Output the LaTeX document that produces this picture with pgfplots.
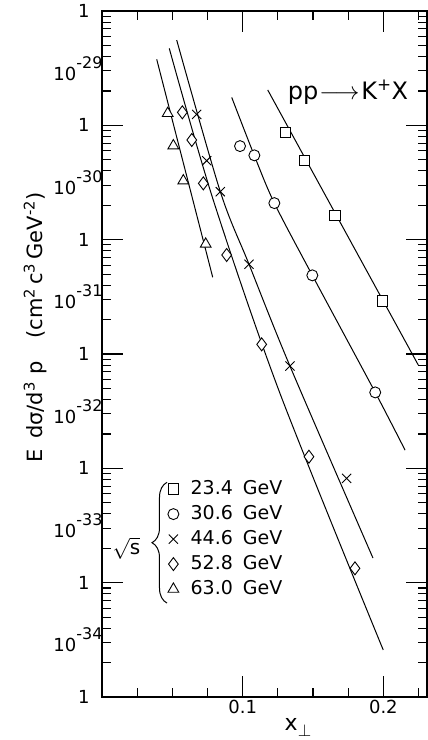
\documentclass[border=0pt]{standalone}
\usepackage{fontspec}
\setmainfont{DejaVu Sans}
\usepackage{pgfplots}
\pgfplotsset{compat=1.18}
\usetikzlibrary{decorations.pathreplacing}
\newcommand{\ex}[1]{10\raisebox{12pt}{\fontsize{16}{16}\selectfont#1}}
\begin{document}
\begin{tikzpicture}
\path[use as bounding box] (-102pt,-43pt) rectangle (326pt,697pt);
\begin{axis}[
  at={(0pt,0pt)}, anchor=south west,
  scale only axis, width=325pt, height=686pt,
  xmin=0, xmax=0.231, ymin=1e-34, ymax=1e-28, ymode=log,
  axis line style={line width=1.4pt},
  tick align=inside,
  major tick length=21pt, minor tick length=9pt,
  tick style={line width=1.1pt, black},
  xtick={0.1,0.2}, xticklabels={0.1,0.2},
  minor xtick={0.025,0.05,0.075,0.125,0.15,0.175,0.225},
  ytick={1e-34,1e-33,1e-32,1e-31,1e-30,1e-29,1e-28},
  yticklabels={1,1,1,1,1,1,1},
  minor ytick={2e-34,3e-34,4e-34,5e-34,6e-34,7e-34,8e-34,9e-34,
               2e-33,3e-33,4e-33,5e-33,6e-33,7e-33,8e-33,9e-33,
               2e-32,3e-32,4e-32,5e-32,6e-32,7e-32,8e-32,9e-32,
               2e-31,3e-31,4e-31,5e-31,6e-31,7e-31,8e-31,9e-31,
               2e-30,3e-30,4e-30,5e-30,6e-30,7e-30,8e-30,9e-30,
               2e-29,3e-29,4e-29,5e-29,6e-29,7e-29,8e-29,9e-29},
  extra y ticks={3.1623e-34,3.1623e-33,3.1623e-32,3.1623e-31,3.1623e-30,3.1623e-29},
  extra y tick labels={\ex{-34},\ex{-33},\ex{-32},\ex{-31},\ex{-30},\ex{-29}},
  extra y tick style={tick style={draw=none}, yticklabel style={xshift=13pt}},
  yticklabel style={xshift=-9pt},
  ticklabel style={font=\fontsize{18}{20}\selectfont},
  xlabel={x\raisebox{-6pt}{\fontsize{16}{16}\selectfont$\perp$}},
  xlabel style={at={(rel axis cs:0.603,-0.044)}, anchor=center, font=\fontsize{22}{24}\selectfont},
  ylabel={E\hspace{10pt}dσ/d\textsuperscript{3}\hspace{8pt}p\hspace{22pt}(cm\textsuperscript{2}\hspace{4pt}c\textsuperscript{3}\hspace{4pt}GeV\textsuperscript{-2})},
  ylabel style={at={(rel axis cs:-0.206,0.539)}, anchor=center, font=\fontsize{21}{24}\selectfont},
  legend style={at={(rel axis cs:0.2,0.318)}, anchor=north west, draw=none, fill=none,
    font=\fontsize{19}{22}\selectfont, row sep=5pt, inner sep=0pt,
    cells={anchor=west}, nodes={inner sep=1pt, text height=14pt, text depth=4pt}},
  legend image code/.code={\path (0pt,0pt) (22pt,0pt); \draw[#1] plot coordinates {(6pt,0pt)};},
]
% fitted curves
\addplot[black, line width=1pt, forget plot] coordinates {(0.1178,2.04e-29) (0.2248,8.02e-32)};
\addplot[black, line width=1pt, smooth, forget plot] coordinates {(0.0922,1.758e-29) (0.1082,5.47e-30) (0.1225,2.09e-30) (0.1495,4.88e-31) (0.1942,4.62e-32) (0.2154,1.445e-32)};
\addplot[black, line width=1pt, smooth, forget plot] coordinates {(0.0531,5.57e-29) (0.0841,2.63e-30) (0.1045,6.10e-31) (0.1336,7.85e-32) (0.1926,1.644e-33)};
\addplot[black, line width=1pt, smooth, forget plot] coordinates {(0.0478,4.72e-29) (0.0791,2.22e-30) (0.1265,4.53e-32) (0.1999,2.58e-34)};
\addplot[black, line width=1pt, forget plot] coordinates {(0.0389,3.78e-29) (0.0787,4.69e-31)};
% data
\addplot[black, only marks, mark=square*, mark size=5.2pt, mark options={fill=white, line width=0.9pt}] coordinates {(0.1306,8.69e-30) (0.1441,4.91e-30) (0.1656,1.633e-30) (0.1992,2.91e-31)};
\addplot[black, only marks, mark=*, mark size=5.5pt, mark options={fill=white, line width=0.9pt}] coordinates {(0.0981,6.59e-30) (0.1083,5.47e-30) (0.1225,2.09e-30) (0.1495,4.88e-31) (0.1942,4.62e-32)};
\addplot[black, only marks, mark=x, mark size=6.5pt, mark options={line width=0.9pt}] coordinates {(0.0673,1.247e-29) (0.0744,4.91e-30) (0.0841,2.63e-30) (0.1045,6.10e-31) (0.1336,7.85e-32) (0.1739,8.18e-33)};
\addplot[black, only marks, mark=diamond*, mark size=6.5pt, mark options={fill=white, line width=0.9pt}] coordinates {(0.0571,1.30e-29) (0.0638,7.45e-30) (0.0720,3.11e-30) (0.0886,7.35e-31) (0.1135,1.216e-31) (0.1471,1.265e-32) (0.1798,1.337e-33)};
\addplot[black, only marks, mark=triangle*, mark size=6.2pt, mark options={fill=white, line width=0.9pt}] coordinates {(0.0467,1.274e-29) (0.0507,6.64e-30) (0.0578,3.28e-30) (0.0737,9.16e-31)};
\legend{23.4\hspace{10pt}GeV, 30.6\hspace{10pt}GeV, 44.6\hspace{10pt}GeV, 52.8\hspace{10pt}GeV, 63.0\hspace{10pt}GeV}
\draw[line width=1pt, decorate, decoration={brace, amplitude=15pt}] (rel axis cs:0.2,0.137) -- (rel axis cs:0.2,0.313);
\node[font=\fontsize{20}{22}\selectfont] at (rel axis cs:0.075,0.217) {$\sqrt{\mbox{s}}$};
\node[font=\fontsize{24}{26}\selectfont] at (rel axis cs:0.757,0.882) {pp\kern1pt$\longrightarrow$\kern2pt K\textsuperscript{+}X};
\end{axis}
\end{tikzpicture}
\end{document}
